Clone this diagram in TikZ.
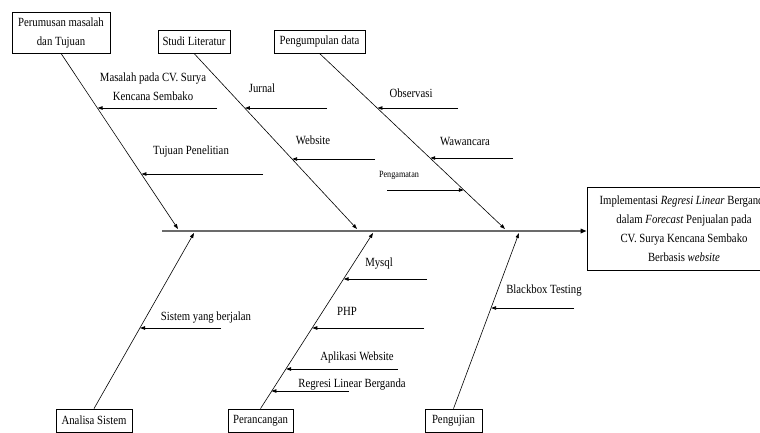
\documentclass[tikz,border=0pt]{standalone}
\usepackage{xcolor}
\usepackage{fontspec}
\setmainfont{Liberation Serif}[FakeStretch=0.86]
\usepackage{tikz}
\usetikzlibrary{arrows.meta, calc, positioning}
\definecolor{spinegray}{rgb}{0.42, 0.42, 0.42}

\begin{document}
\begin{tikzpicture}[x=1pt, y=-1pt, every node/.style={font=\fontsize{12.5}{19}\selectfont},
		boxnode/.style={draw, line width=0.8pt, inner sep=2pt, align=center},
		bone/.style={line width=0.6pt, -{Triangle[length=5pt, width=3.5pt]}},
		cause/.style={line width=0.8pt, -{Triangle[length=5pt, width=3.5pt]}},
		spine/.style={line width=1.6pt, draw=spinegray, -{Triangle[length=6pt, width=4.5pt, color=black]}},
		lbl/.style={inner sep=0pt, align=center}]
				\useasboundingbox (0,0) rectangle (760,432);
				\clip (0,0) rectangle (760,432);
				%% kategori
				\node[boxnode, minimum width=98pt, minimum height=41pt] (perumusan) at (61,32.5) {Perumusan masalah\\dan Tujuan};
				\node[boxnode, minimum width=72pt, minimum height=23pt] (studi) at (194,41.5) {Studi Literatur};
				\node[boxnode, minimum width=91pt, minimum height=23pt] (pengumpulan) at (319.5,41.5) {Pengumpulan data};
				\node[boxnode, minimum width=76pt, minimum height=23pt] (analisa) at (94,420.5) {Analisa Sistem};
				\node[boxnode, minimum width=65pt, minimum height=23pt] (perancangan) at (260.5,420.5) {Perancangan};
				\node[boxnode, minimum width=57pt, minimum height=23pt] (pengujian) at (453.5,420.5) {Pengujian};
				\node[boxnode, minimum width=194pt, minimum height=83pt] (hasil) at (684,228.5) {Implementasi \textit{Regresi Linear} Berganda\\dalam \textit{Forecast} Penjualan pada\\CV. Surya Kencana Sembako\\Berbasis \textit{website}};
				
				%% tulang utama
				\coordinate (ekor) at (162,231);
				\draw[spine] (ekor) -- (ekor -| hasil.west);
				\coordinate (s1) at (178,229);
				\coordinate (s2) at (357,229);
				\coordinate (s3) at (505,229);
				\coordinate (s4) at (194,233);
				\coordinate (s5) at (373,233);
				\coordinate (s6) at (519,233);
				\draw[bone] (perumusan.south) -- coordinate[pos=0.3125] (pMasalah) coordinate[pos=0.6875] (pTujuan) (s1);
				\draw[bone] (studi.south) -- coordinate[pos=0.3125] (pJurnal) coordinate[pos=0.602] (pWebsite) (s2);
				\draw[bone] (pengumpulan.south) -- coordinate[pos=0.3125] (pObservasi) coordinate[pos=0.597] (pWawancara) coordinate[pos=0.778] (pPengamatan) (s3);
				\draw[bone] (analisa.north) -- coordinate[pos=0.46] (pSistem) (s4);
				\draw[bone] (perancangan.north) -- coordinate[pos=0.739] (pMysql) coordinate[pos=0.46] (pPHP) coordinate[pos=0.227] (pAplikasi) coordinate[pos=0.097] (pRegresi) (s5);
				\draw[bone] (pengujian.north) -- coordinate[pos=0.574] (pBlackbox) (s6);
				
				%% sebab
				\coordinate (fMasalah) at (217,108);
				\coordinate (fTujuan) at (263,174);
				\coordinate (fJurnal) at (327,108);
				\coordinate (fWebsite) at (375,159);
				\coordinate (fObservasi) at (458,108);
				\coordinate (fWawancara) at (513,158);
				\coordinate (fPengamatan) at (387,190);
				\coordinate (fSistem) at (221,328);
				\coordinate (fMysql) at (427,279);
				\coordinate (fPHP) at (424,328);
				\coordinate (fAplikasi) at (398,369);
				\coordinate (fRegresi) at (349,391);
				\coordinate (fBlackbox) at (574,308);
				\foreach \c in {Masalah, Tujuan, Jurnal, Website, Observasi, Wawancara, Pengamatan, Sistem, Mysql, PHP, Aplikasi, Regresi, Blackbox}
					\draw[cause] (f\c) -- (p\c |- f\c);
				
				\node[lbl] (lMasalah) at (153,87) {Masalah pada CV. Surya\\Kencana Sembako};
				\node[lbl] (lTujuan) at (191,151) {Tujuan Penelitian};
				\node[lbl] (lJurnal) at (262,88) {Jurnal};
				\node[lbl] (lWebsite) at (313,140) {Website};
				\node[lbl] (lObservasi) at (411,93) {Observasi};
				\node[lbl] (lWawancara) at (465,141) {Wawancara};
				\node[lbl, font=\fontsize{9.5}{11}\selectfont] (lPengamatan) at (399,175) {Pengamatan};
				\node[lbl] (lSistem) at (206,318) {Sistem yang berjalan};
				\node[lbl] (lMysql) at (379,264) {Mysql};
				\node[lbl] (lPHP) at (347,311) {PHP};
				\node[lbl] (lAplikasi) at (357,357) {Aplikasi Website};
				\node[lbl] (lRegresi) at (352,385) {Regresi Linear Berganda};
				\node[lbl] (lBlackbox) at (544,291) {Blackbox Testing};
\end{tikzpicture}
\end{document}
